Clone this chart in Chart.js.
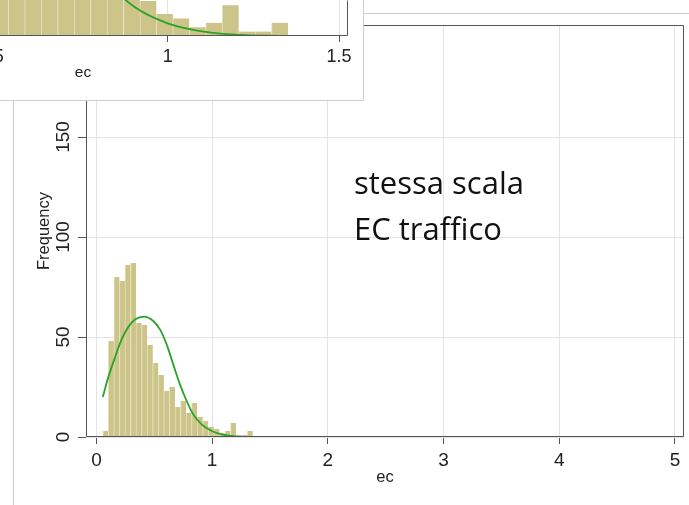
<!DOCTYPE html>
<html>
<head>
<meta charset="utf-8">
<script src="https://cdn.jsdelivr.net/npm/chart.js@4.4.1/dist/chart.umd.min.js"></script>
<style>
  html, body { margin: 0; padding: 0; background: #fff; }
  body { width: 689px; height: 505px; position: relative; overflow: hidden; }
  #main { position: absolute; left: 0; top: 0; }
  .rule { position: absolute; background: #cfcfcf; }
  #insetBox { position: absolute; left: 0; top: 0; width: 364px; height: 101px; overflow: hidden; background: #fff;
              border-right: 1px solid #cfcfcf; border-bottom: 1px solid #cfcfcf; box-sizing: border-box; }
  #inset { position: absolute; left: -184px; top: 0; }
  #note { position: absolute; left: 354px; top: 160px; font-family: "Open Sans"; font-size: 31px;
          line-height: 45.7px; color: #111; white-space: nowrap; }
</style>
</head>
<body>
<canvas id="main" width="689" height="505"></canvas>
<div class="rule" style="left:13px; top:100px; width:1px; height:405px;"></div>
<div class="rule" style="left:363px; top:13px; width:326px; height:1px;"></div>
<div id="insetBox"><canvas id="inset" width="547" height="100"></canvas></div>
<div id="note">stessa scala<br>EC traffico</div>
<script>
// histogram of ec (bin centres, bin width ~0.048)
const binCenters = [0.079, 0.127, 0.175, 0.223, 0.271, 0.319, 0.367, 0.415, 0.463, 0.511,
  0.559, 0.607, 0.655, 0.703, 0.751, 0.799, 0.847, 0.895, 0.943, 0.991,
  1.039, 1.087, 1.135, 1.183, 1.231, 1.279, 1.327];
const counts = [3, 48, 80, 78, 86, 87, 57, 56, 46, 37,
  31, 23, 25, 15, 18, 12, 17, 10, 8, 5,
  4, 2, 3, 7, 1, 1, 3];

// normal density overlay
const curveX = [0.055, 0.102, 0.160, 0.218, 0.275, 0.333, 0.413, 0.491, 0.549, 0.607,
  0.664, 0.722, 0.780, 0.837, 0.909, 0.996, 1.082, 1.197, 1.344];
const curveY = [20, 29.7, 39.7, 48.8, 55, 58.8, 60.2, 58, 53.8, 46.3,
  36.3, 26.3, 18, 11.3, 6.3, 3, 1.3, 0.3, 0];

const xTicks = [0, 1, 2, 3, 4, 5];
const xTickLabels = ["0", "1", "2", "3", "4", "5"];
const yTicks = [0, 50, 100, 150];
const insetTicks = [0, 0.5, 1, 1.5];
const insetTickLabels = ["0", ".5", "1", "1.5"];

const barFill = "rgb(205,196,138)";
const barEdge = "rgb(228,222,186)";
const curveColor = "#27a327";
const axisColor = "#555";
const gridColor = "#e3e3e3";
const textColor = "#222";
const font = "Liberation Sans";

// plot region outline (Stata draws a box round the plot)
const framePlugin = {
  id: "frame",
  afterDatasetsDraw(chart, args, opts) {
    const { ctx, chartArea: a } = chart;
    const l = Math.round(a.left) + 0.5, r = Math.round(a.right) - 0.5;
    const t = Math.round(a.top) + 0.5, b = Math.round(a.bottom) - 0.5;
    const sides = opts.sides || ["top", "right", "bottom", "left"];
    ctx.save();
    ctx.strokeStyle = axisColor;
    ctx.lineWidth = 1;
    ctx.beginPath();
    if (sides.includes("top")) { ctx.moveTo(l, t); ctx.lineTo(r, t); }
    if (sides.includes("right")) { ctx.moveTo(r, t); ctx.lineTo(r, b); }
    if (sides.includes("bottom")) { ctx.moveTo(l, b); ctx.lineTo(r, b); }
    if (sides.includes("left")) { ctx.moveTo(l, t); ctx.lineTo(l, b); }
    ctx.stroke();
    ctx.restore();
  }
};

function datasets() {
  return [
    {
      type: "line",
      data: curveX.map((x, i) => ({ x: x, y: curveY[i] })),
      borderColor: curveColor,
      borderWidth: 1.8,
      pointRadius: 0,
      cubicInterpolationMode: "monotone",
      fill: false,
      order: 1
    },
    {
      type: "bar",
      data: binCenters.map((x, i) => ({ x: x, y: counts[i] })),
      backgroundColor: barFill,
      borderColor: barEdge,
      borderWidth: { left: 1, top: 0, right: 0, bottom: 0 },
      borderSkipped: false,
      barPercentage: 1,
      categoryPercentage: 1,
      order: 2
    }
  ];
}

new Chart(document.getElementById("main"), {
  type: "bar",
  data: { datasets: datasets() },
  plugins: [framePlugin],
  options: {
    responsive: false,
    animation: false,
    layout: { padding: { left: 0, top: 25, right: 5, bottom: 0 } },
    plugins: { legend: { display: false }, tooltip: { enabled: false }, frame: {} },
    scales: {
      x: {
        type: "linear",
        offset: false,
        min: -0.09,
        max: 5.078,
        afterBuildTicks: (s) => { s.ticks = xTicks.map(v => ({ value: v })); },
        afterFit: (s) => { s.height = 68; },
        ticks: {
          callback: (v) => xTickLabels[xTicks.indexOf(v)],
          font: { family: font, size: 19 },
          color: textColor,
          padding: 5,
          maxRotation: 0,
          autoSkip: false
        },
        grid: { offset: false, color: gridColor, tickColor: axisColor, tickLength: 7 },
        border: { display: false },
        title: { display: true, text: "ec", font: { family: font, size: 16.5 }, color: textColor,
                 padding: { top: 0, bottom: 18 } }
      },
      y: {
        min: 0,
        max: 206,
        afterBuildTicks: (s) => { s.ticks = yTicks.map(v => ({ value: v })); },
        afterFit: (s) => { s.width = 86; },
        ticks: {
          minRotation: 90,
          maxRotation: 90,
          crossAlign: "center",
          padding: -1.5,
          autoSkip: false,
          font: { family: font, size: 19 },
          color: textColor
        },
        grid: { color: gridColor, tickColor: axisColor, tickLength: 8 },
        border: { display: false },
        title: { display: true, text: "Frequency", font: { family: font, size: 16.5 }, color: textColor,
                 padding: { top: 35, bottom: 0 } }
      }
    }
  }
});

// inset: the piece of the other histogram pasted over the top-left corner
new Chart(document.getElementById("inset"), {
  type: "bar",
  data: { datasets: datasets() },
  plugins: [framePlugin],
  options: {
    responsive: false,
    animation: false,
    layout: { padding: { left: 0, top: 0, right: 15, bottom: 0 } },
    plugins: { legend: { display: false }, tooltip: { enabled: false }, frame: { sides: ["right", "bottom"] } },
    scales: {
      x: {
        type: "linear",
        offset: false,
        min: -0.0205,
        max: 1.526,
        afterBuildTicks: (s) => { s.ticks = insetTicks.map(v => ({ value: v })); },
        afterFit: (s) => { s.height = 64; },
        ticks: {
          callback: (v) => insetTickLabels[insetTicks.indexOf(v)],
          font: { family: font, size: 18 },
          color: textColor,
          padding: 4,
          maxRotation: 0,
          autoSkip: false
        },
        grid: { offset: false, color: gridColor, tickColor: axisColor, tickLength: 6 },
        border: { display: false },
        title: { display: true, text: "ec", font: { family: font, size: 15.5 }, color: textColor,
                 padding: { top: 0, bottom: 18 } }
      },
      y: { display: false, min: 0, max: 8.2 }
    }
  }
});
</script>
</body>
</html>
